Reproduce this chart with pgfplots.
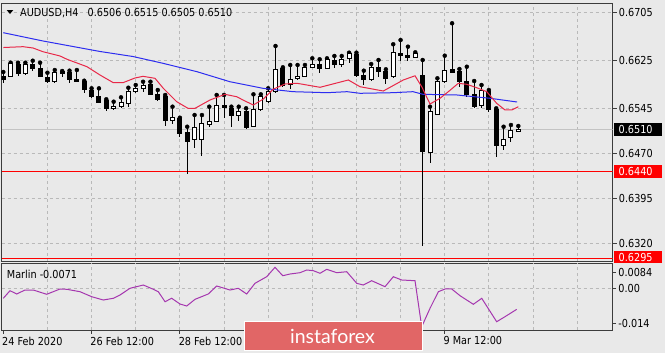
\documentclass[border=0pt]{standalone}
\usepackage{pgfplots}
\pgfplotsset{compat=1.18}
\usepackage{pgfplotstable}
\usepackage{fontspec}
\setmainfont{DejaVu Sans}[FakeStretch=0.88]
\newfontfamily\logofont{Lato}
\definecolor{bgcol}{RGB}{233,233,233}
\definecolor{gridcol}{RGB}{185,185,185}
\definecolor{framecol}{RGB}{60,60,60}
\definecolor{macol}{RGB}{232,40,72}
\definecolor{blcol}{RGB}{45,45,240}
\definecolor{marlincol}{RGB}{165,55,175}
\definecolor{logocol}{RGB}{225,102,102}
\definecolor{pricegray}{RGB}{195,195,195}
\newcommand{\lbl}{\fontsize{11bp}{12bp}\selectfont}

\pgfplotstableread{
i O H L C
0 0.65983 0.66050 0.65867 0.65917
1 0.65983 0.66205 0.65962 0.66195
2 0.66183 0.66205 0.65983 0.66028
3 0.66017 0.66205 0.66000 0.66167
4 0.66183 0.66238 0.66072 0.66112
5 0.66112 0.66205 0.65962 0.65972
6 0.65962 0.66038 0.65862 0.65888
7 0.65888 0.66083 0.65862 0.66038
8 0.66062 0.66067 0.65972 0.66028
9 0.66038 0.66072 0.65872 0.65917
10 0.65928 0.66083 0.65890 0.65895
11 0.65888 0.65905 0.65695 0.65762
12 0.65750 0.65778 0.65612 0.65650
13 0.65650 0.65778 0.65528 0.65538
14 0.65567 0.65595 0.65405 0.65445
15 0.65438 0.65555 0.65417 0.65483
16 0.65472 0.65628 0.65445 0.65550
17 0.65528 0.65788 0.65462 0.65722
18 0.65722 0.65833 0.65695 0.65778
19 0.65767 0.65888 0.65712 0.65833
20 0.65845 0.65888 0.65667 0.65678
21 0.65683 0.65750 0.65567 0.65600
22 0.65638 0.65667 0.65155 0.65250
23 0.65245 0.65472 0.65178 0.65300
24 0.65278 0.65288 0.64972 0.65028
25 0.65045 0.65138 0.64350 0.64888
26 0.64917 0.65333 0.64788 0.65128
27 0.64933 0.65333 0.64650 0.65200
28 0.65167 0.65472 0.65128 0.65233
29 0.65222 0.65667 0.65212 0.65500
30 0.65500 0.65667 0.65278 0.65455
31 0.65445 0.65472 0.65138 0.65322
32 0.65333 0.65472 0.65233 0.65388
33 0.65400 0.65445 0.65095 0.65122
34 0.65150 0.65678 0.65138 0.65417
35 0.65417 0.65678 0.65400 0.65638
36 0.65555 0.65778 0.65538 0.65722
37 0.65722 0.66483 0.65695 0.66095
38 0.66112 0.66128 0.65805 0.65833
39 0.65850 0.66167 0.65762 0.65928
40 0.65938 0.66167 0.65917 0.65983
41 0.65983 0.66167 0.65972 0.66128
42 0.66128 0.66278 0.66112 0.66172
43 0.66167 0.66262 0.66028 0.66112
44 0.66112 0.66278 0.66095 0.66262
45 0.66250 0.66317 0.66112 0.66167
46 0.66167 0.66317 0.66128 0.66262
47 0.66278 0.66372 0.66205 0.66362
48 0.66350 0.66372 0.65972 0.66000
49 0.66000 0.66072 0.65833 0.65928
50 0.65917 0.66183 0.65905 0.66128
51 0.66128 0.66250 0.65972 0.66055
52 0.66055 0.66095 0.65850 0.65945
53 0.65972 0.66512 0.65955 0.66378
54 0.66362 0.66583 0.66233 0.66322
55 0.66333 0.66472 0.66233 0.66300
56 0.66295 0.66378 0.66288 0.66362
57 0.66000 0.66250 0.63150 0.64722
58 0.64712 0.65472 0.64528 0.65400
59 0.65345 0.65945 0.65333 0.65900
60 0.65888 0.66322 0.65862 0.66067
61 0.66095 0.66862 0.66028 0.66045
62 0.66055 0.66100 0.65805 0.65888
63 0.65888 0.66138 0.65638 0.65667
64 0.65667 0.65900 0.65455 0.65472
65 0.65488 0.65833 0.65455 0.65750
66 0.65733 0.65750 0.65388 0.65417
67 0.65433 0.65445 0.64638 0.64822
68 0.64822 0.65138 0.64750 0.64933
69 0.64955 0.65167 0.64888 0.65083
70 0.65060 0.65150 0.65050 0.65100
}\candles

\pgfplotstableread{
i v
0 0.66458
2.68 0.66472
4.04 0.66450
5.39 0.66388
7.71 0.66317
8.66 0.66262
11.38 0.66138
13.14 0.66000
14.91 0.65875
16.27 0.65872
17.9 0.65950
18.99 0.65978
20.62 0.65945
21.75 0.65778
23.57 0.65555
25.1 0.65445
26.06 0.65445
28.09 0.65583
30.13 0.65678
31.72 0.65638
32.85 0.65567
33.98 0.65500
35.34 0.65600
36.66 0.65762
38.29 0.65850
39.92 0.65862
43.05 0.65795
46.9 0.65917
48.48 0.65805
51.65 0.65733
54.37 0.65917
55.96 0.65987
56.87 0.65805
58.0 0.65517
59.36 0.65612
60.49 0.65722
61.85 0.65862
62.99 0.65845
64.35 0.65788
65.71 0.65722
67.06 0.65528
68.19 0.65417
69.1 0.65417
70.0 0.65472
}\redma

\pgfplotstableread{
i v
0 0.66705
5.39 0.66567
13.14 0.66392
17.63 0.66308
21.7 0.66195
26.33 0.66055
30.8 0.65888
35.3 0.65778
39.38 0.65722
44 0.65705
46.72 0.65722
48.48 0.65695
52.97 0.65705
55.69 0.65722
57.05 0.65678
61.67 0.65667
66.16 0.65612
69.83 0.65550
}\bluema

\pgfplotstableread{
i v
0 -0.0034
0.91 -0.00086
1.82 -0.00196
2.95 -0.00063
4.08 -0.00063
5.9 -0.00206
7.71 -0.00029
8.62 -0.00039
10.43 -0.0012
12.02 -0.00287
13.59 -0.00397
14.95 -0.0034
15.86 -0.0023
17.22 -0.00006
19.03 0.00104
20.39 -0.00039
21.07 -0.0012
21.98 -0.00454
22.89 -0.0034
24.02 -0.00531
24.93 -0.00598
26.06 -0.00374
27.86 -0.00196
29.01 0.00071
30.81 -0.00063
31.94 -0.00006
33.08 -0.00196
34.21 0.00161
35.8 0.00382
36.93 0.00696
37.98 0.00415
38.97 0.00472
40.33 0.00516
41.24 0.00606
42.14 0.00583
43.05 0.00496
43.96 0.00629
45.32 0.00516
46.68 0.00549
48.04 0.00161
48.93 0.00104
50.07 0.00248
51.88 0.00048
53.01 0.00382
54.15 0.00272
55.96 0.00248
56.87 -0.0129
58.0 -0.00675
59.13 -0.0012
60.04 -0.00029
60.95 -0.00029
62.08 -0.00253
63.89 -0.00541
65.03 -0.0034
67.06 -0.01123
68.19 -0.00955
69.78 -0.0071
}\marlin

\pgfplotsset{
  chartbase/.style={
    at={(1.7bp,-261.5bp)}, anchor=south west,
    width=611bp, height=258.5bp, scale only axis,
    xmin=-0.2175, xmax=82.83, ymin=0.628917, ymax=0.6720,
    scaled y ticks=false,
  },
}

\begin{document}
\begin{tikzpicture}
\useasboundingbox (0bp,0bp) rectangle (665bp,-353bp);
\fill[bgcol] (0bp,0bp) rectangle (665bp,-353bp);

% main price panel: grid, levels, wicks
\begin{axis}[chartbase,
  axis line style={line width=1bp, draw=framecol},
  xtick={6,12,...,78}, xticklabels={}, xtick style={draw=none},
  xmajorgrids, ymajorgrids,
  grid style={draw=gridcol, line width=0.8bp, dash pattern=on 3bp off 3bp},
  ytick={0.6320,0.6395,0.6470,0.6545,0.6625,0.6705},
  yticklabels={0.6320,0.6395,0.6470,0.6545,0.6625,0.6705},
  ytick pos=right, yticklabel pos=right,
  tick align=outside, major tick length=4bp,
  ytick style={draw=framecol, line width=1bp},
  yticklabel style={font=\lbl, anchor=west, inner sep=0pt, xshift=2bp},
]
\addplot[pricegray, line width=1bp] coordinates {(-0.2175,0.6510) (82.83,0.6510)};
\addplot[red, line width=1bp] coordinates {(-0.2175,0.6440) (82.83,0.6440)};
\addplot[red, line width=1bp] coordinates {(-0.2175,0.6295) (82.83,0.6295)};
\addplot[only marks, mark=none,
  error bars/.cd, y dir=minus, y explicit, error mark=none,
  error bar style={draw=black, line width=1bp}]
  table[x=i, y=H, y error minus expr=\thisrow{H}-\thisrow{L}] {\candles};
\end{axis}

% candle bodies
\begin{axis}[chartbase, hide axis, ybar stacked, bar width=4bp]
\addplot[draw=none, fill=none] table[x=i, y expr={min(\thisrow{O},\thisrow{C})}] {\candles};
\addplot[draw=black, fill=white, line width=1bp] table[x=i, y expr={ifthenelse(\thisrow{C}>\thisrow{O}, \thisrow{C}-\thisrow{O}, 0)}] {\candles};
\addplot[draw=black, fill=black, line width=1bp] table[x=i, y expr={ifthenelse(\thisrow{C}<\thisrow{O}, \thisrow{O}-\thisrow{C}, 0)}] {\candles};
\end{axis}

% moving averages
\begin{axis}[chartbase, hide axis]
\addplot[blcol, line width=1bp] table[x=i, y=v] {\bluema};
\addplot[macol, line width=1bp] table[x=i, y=v] {\redma};
\end{axis}

% Marlin panel
\begin{axis}[at={(1.7bp,-330bp)}, anchor=south west, width=611bp, height=67bp, scale only axis,
  xmin=-0.2175, xmax=82.83, ymin=-0.014, ymax=0.0084,
  scaled y ticks=false,
  axis line style={line width=1bp, draw=framecol},
  xtick={0,12,24,60},
  xticklabels={24 Feb 2020,26 Feb 12:00,28 Feb 12:00,9 Mar 12:00},
  xtick pos=bottom, xticklabel pos=bottom,
  ytick={-0.01166,0,0.00506}, yticklabels={-0.014,0.00,0.0084},
  ytick pos=right, yticklabel pos=right,
  tick align=outside, major tick length=3.5bp,
  tick style={draw=framecol, line width=1bp},
  xticklabel style={font=\lbl, anchor=north west, inner sep=0pt, xshift=-1.3bp, yshift=-3bp},
  yticklabel style={font=\lbl, anchor=west, inner sep=0pt, xshift=2bp},
  extra x ticks={6,12,...,78}, extra x tick labels={},
  extra x tick style={grid=major, tick style={draw=none}},
  extra y ticks={0}, extra y tick labels={},
  extra y tick style={grid=major, tick style={draw=none}},
  grid style={draw=gridcol, line width=0.8bp, dash pattern=on 3bp off 3bp},
]
\addplot[marlincol, line width=1bp] table[x=i, y=v] {\marlin};
\end{axis}

% header
\fill[black] (6.7bp,-10bp) -- (13.3bp,-10bp) -- (10bp,-14bp) -- cycle;
\node[anchor=base west, inner sep=0pt, font=\lbl] at (20bp,-16bp) {AUDUSD,H4\hspace{6bp} 0.6506 0.6515 0.6505 0.6510};
\node[anchor=base west, inner sep=0pt, font=\lbl] at (6.7bp,-278bp) {Marlin -0.0071};

% price boxes
\fill[black] (614bp,-122.5bp) rectangle (662bp,-136bp);
\node[anchor=west, inner sep=0pt, font=\lbl, text=white] at (618.5bp,-129.3bp) {0.6510};
\fill[red] (614bp,-165bp) rectangle (662bp,-178bp);
\node[anchor=west, inner sep=0pt, font=\lbl, text=white] at (618.5bp,-171.5bp) {0.6440};
\fill[red] (614bp,-251bp) rectangle (662bp,-262.5bp);
\node[anchor=west, inner sep=0pt, font=\lbl, text=white] at (618.5bp,-257.5bp) {0.6295};

% watermark
\fill[white] (243.5bp,-321bp) rectangle (422.5bp,-351bp);
\fill[logocol] (244.5bp,-322bp) rectangle (421.5bp,-350bp);
\node[anchor=base, inner sep=0pt, text=white, font=\logofont\fontsize{19.5bp}{20bp}\selectfont] at (332.5bp,-343.3bp) {instaforex};
\end{tikzpicture}
\end{document}
